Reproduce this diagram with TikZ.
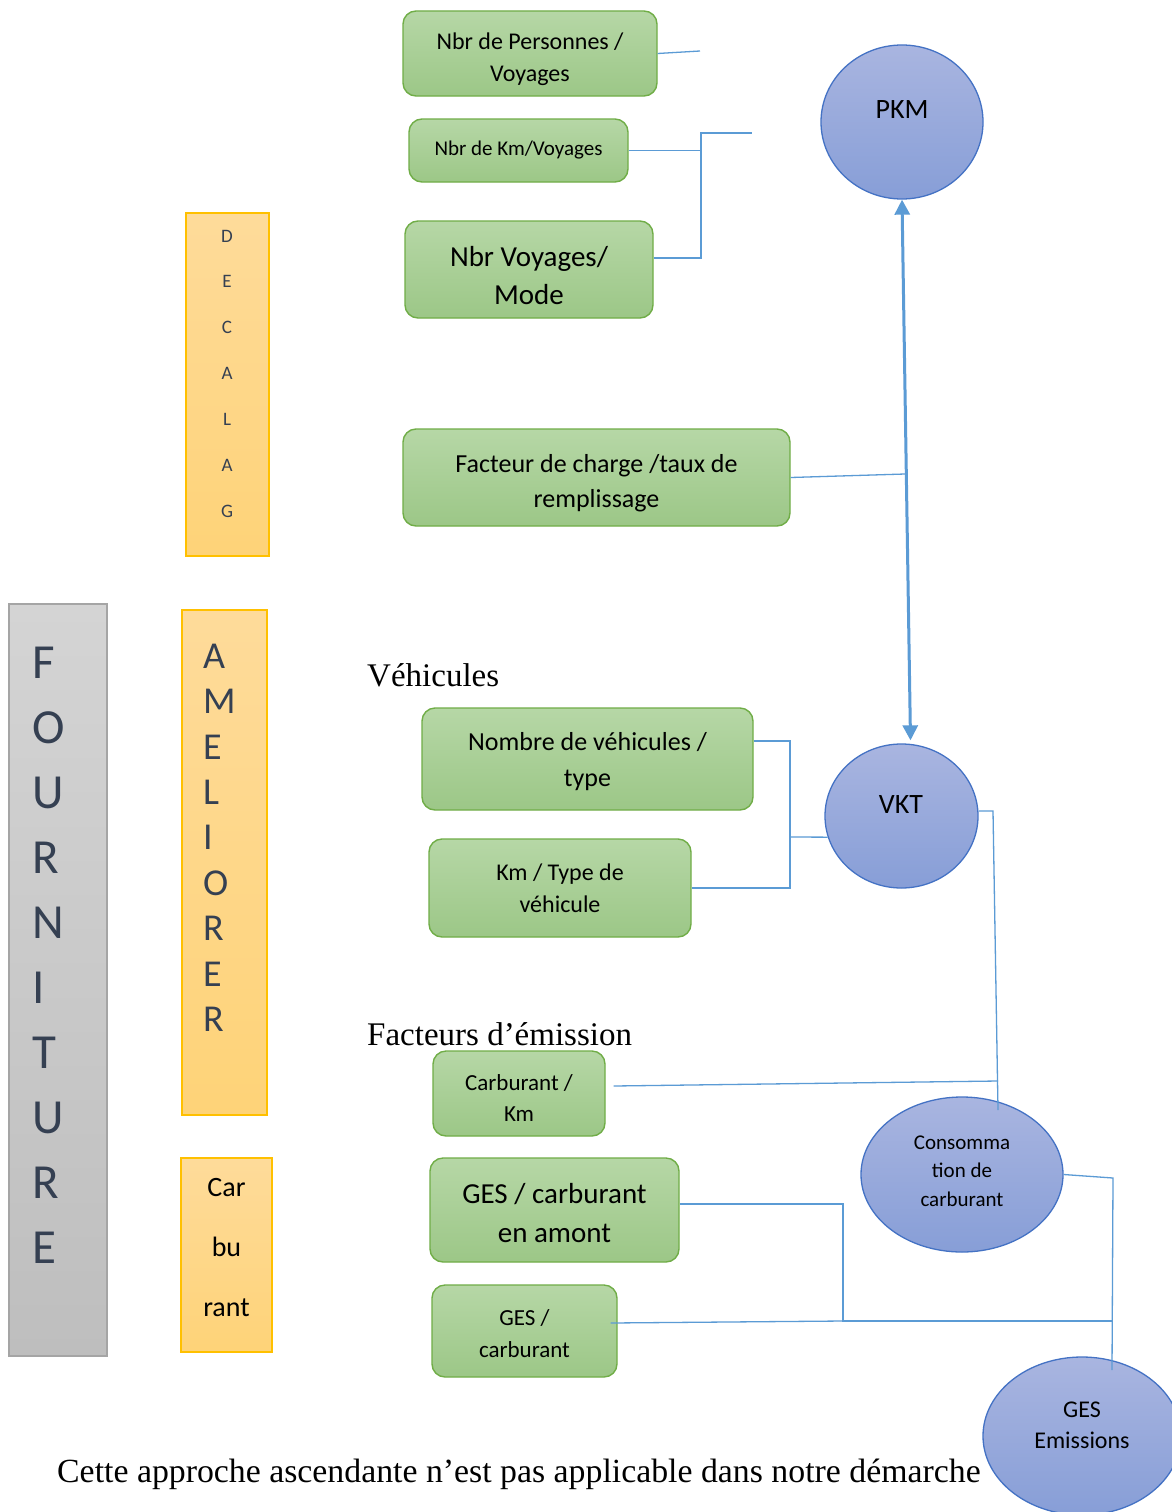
\documentclass[tikz,border=0pt]{standalone}
\usepackage{fontspec}
\setmainfont{Liberation Serif}
\newfontfamily\carl{Carlito}
\usetikzlibrary{shapes.geometric,arrows.meta}
\definecolor{gtop}{HTML}{B6D7A6}
\definecolor{gbot}{HTML}{9CC787}
\definecolor{gborder}{HTML}{70AD47}
\definecolor{btop}{HTML}{A9B5E0}
\definecolor{bbot}{HTML}{879ED7}
\definecolor{bborder}{HTML}{4472C4}
\definecolor{otop}{HTML}{FEDB9A}
\definecolor{obot}{HTML}{FED378}
\definecolor{oborder}{HTML}{FFC000}
\definecolor{gytop}{HTML}{D4D4D4}
\definecolor{gybot}{HTML}{BEBEBE}
\definecolor{gyborder}{HTML}{A5A5A5}
\definecolor{lineblue}{HTML}{5B9BD5}
\definecolor{letcol}{HTML}{354052}
\newcommand\fsz[2]{\fontsize{#1}{#2}\selectfont}
% a zero-width strut on the first line pushes a box's text down a little
\newcommand\lift[1]{\vrule width 0pt height \dimexpr 0.78em+#1pt\relax}
\begin{document}
\begin{tikzpicture}[x=1pt,y=-1pt,
  gbox/.style={draw=gborder,line width=1.4pt,rounded corners=13pt,top color=gtop,bottom color=gbot,align=center,inner sep=0pt},
  bell/.style={ellipse,draw=bborder,line width=1.3pt,top color=btop,bottom color=bbot,inner sep=0pt},
  obox/.style={draw=oborder,line width=1.8pt,top color=otop,bottom color=obot,inner sep=0pt},
  gybox/.style={draw=gyborder,line width=1.3pt,top color=gytop,bottom color=gybot,inner sep=0pt},
  conn/.style={draw=lineblue,line width=1.3pt},
  arr/.style={draw=lineblue,line width=3pt,{Triangle[length=15pt,width=15pt]}-{Triangle[length=15pt,width=15pt]}},
  lett/.style={text=letcol,inner sep=0pt},
  heading/.style={font=\fsz{33}{40},anchor=west,inner sep=0pt}]
\fill[white] (0,0) rectangle (1171,1512);
\useasboundingbox (0,0) rectangle (1171,1512);

% caption (partly hidden by the GES ellipse)
\node[font=\fsz{33.8}{40},anchor=west,inner sep=0pt] (cap) at (57,1474) {Cette approche ascendante n’est pas applicable dans notre démarche};

% left columns
\node[gybox,minimum width=98,minimum height=752] (four) at (58,980) {};
\foreach \l [count=\i from 0] in {F,O,U,R,N,I,T,U,R,E}
  \node[lett,anchor=west,font={\carl\fsz{49}{49}}] (four\i) at (32,663+65*\i) {\l};
\node[obox,minimum width=83,minimum height=343] (dec) at (227.5,384.5) {};
\foreach \l [count=\i from 0] in {D,E,C,A,L,A,G}
  \node[lett,font={\carl\fsz{19}{19}}] (dec\i) at (227,236+45.9*\i) {\l};
\node[obox,minimum width=85,minimum height=505] (ame) at (224.5,862.5) {};
\foreach \l [count=\i from 0] in {A,M,E,L,I,O,R,E,R}
  \node[lett,anchor=west,font={\carl\fsz{38}{38}}] (ame\i) at (203,656+45.4*\i) {\l};
\node[obox,minimum width=91,minimum height=194] (carb) at (226.5,1255) {};
\node[font={\carl\fsz{28}{60}},align=center,inner sep=0pt] (carbt) at (226.5,1248) {Car\\bu\\rant};

% headings
\node[heading] (veh) at (367,675) {Véhicules};
\node[heading] (fe) at (367,1034) {Facteurs d’émission};

% green boxes
\node[gbox,minimum width=254,minimum height=85,font={\carl\fsz{24}{32}}] (b1) at (530,53.5) {\lift{9}Nbr de Personnes /\\Voyages};
\node[gbox,minimum width=219,minimum height=63,font={\carl\fsz{21}{28}}] (b2) at (518.5,150.5) {Nbr de Km/Voyages};
\node[gbox,minimum width=248,minimum height=97,font={\carl\fsz{29}{38}}] (b3) at (529,269.5) {\lift{9}Nbr Voyages/\\Mode};
\node[gbox,minimum width=387,minimum height=97,font={\carl\fsz{26}{35}}] (b4) at (596.5,477.5) {\lift{9}Facteur de charge /taux de\\remplissage};
\node[gbox,minimum width=331,minimum height=102,font={\carl\fsz{26}{36}}] (b5) at (587.5,759) {\lift{3}Nombre de véhicules /\\type};
\node[gbox,minimum width=262,minimum height=98,font={\carl\fsz{24}{32}}] (b6) at (560,888) {Km / Type de\\véhicule};
\node[gbox,minimum width=172,minimum height=85,font={\carl\fsz{23}{31}}] (b7) at (519,1093.5) {\lift{7}Carburant /\\Km};
\node[gbox,minimum width=249,minimum height=104,font={\carl\fsz{29}{39}}] (b8) at (554.5,1210) {\lift{3}GES / carburant\\en amont};
\node[gbox,minimum width=185,minimum height=92,font={\carl\fsz{23}{32}}] (b9) at (524.5,1331) {\lift{3}GES /\\carburant};

% ellipses
\node[bell,minimum width=162,minimum height=154] (pkm) at (902,122) {};
\node[font={\carl\fsz{28}{34}},inner sep=0pt] (pkmt) at (902,110) {PKM};
\node[bell,minimum width=153,minimum height=144] (vkt) at (901.5,816) {};
\node[font={\carl\fsz{28}{34}},inner sep=0pt] (vktt) at (901,805) {VKT};
\node[bell,minimum width=202,minimum height=155] (cons) at (962,1174.5) {};
\node[font={\carl\fsz{21}{28.5}},align=center,inner sep=0pt] (const) at (962,1171) {Consomma\\tion de\\carburant};
\node[bell,minimum width=198,minimum height=158] (ges) at (1082,1436) {};
\node[font={\carl\fsz{24}{31}},align=center,inner sep=0pt] (gest) at (1082,1425) {GES\\Emissions};

% connectors
\coordinate (p1) at (700,51);
\draw[conn] (b1.east) -- (p1);
\coordinate (p2) at (701,150.5);
\draw[conn] (b2.east) -- (p2);
\coordinate (p3) at (701,258);
\coordinate (p3t) at (701,133);
\coordinate (p3e) at (752,133);
\draw[conn] ([yshift=11.5pt]b3.east) -- (p3) -- (p3t) -- (p3e);
\coordinate (p4) at (905,474);
\draw[conn] (b4.east) -- (p4);
\draw[arr] (pkm.south) -- ([xshift=9pt,yshift=3pt]vkt.north);

\coordinate (q1) at (790,741);
\coordinate (q2) at (790,888);
\coordinate (q3) at (790,837);
\draw[conn] ([yshift=18pt]b5.east) -- (q1) -- (q2) -- (b6.east);
\draw[conn] (q3) -- (vkt.196);

\coordinate (r1) at (993,811);
\coordinate (r2) at (998,1110);
\draw[conn] ([yshift=5pt]vkt.east) -- (r1) -- (r2);
\coordinate (r3) at (998,1081);
\draw[conn] ([xshift=8pt,yshift=7.5pt]b7.east) -- (r3);

\coordinate (s1) at (843,1204);
\coordinate (s2) at (843,1321);
\coordinate (s3) at (1112,1321);
\draw[conn] ([yshift=6pt]b8.east) -- (s1) -- (s2) -- (s3);
\draw[conn] ([xshift=-7pt,yshift=8pt]b9.east) -- (s2);
\coordinate (t1) at (1113,1178);
\coordinate (t2) at (1112,1370);
\draw[conn] (cons.east) -- (t1) -- (t2);
\end{tikzpicture}
\end{document}
